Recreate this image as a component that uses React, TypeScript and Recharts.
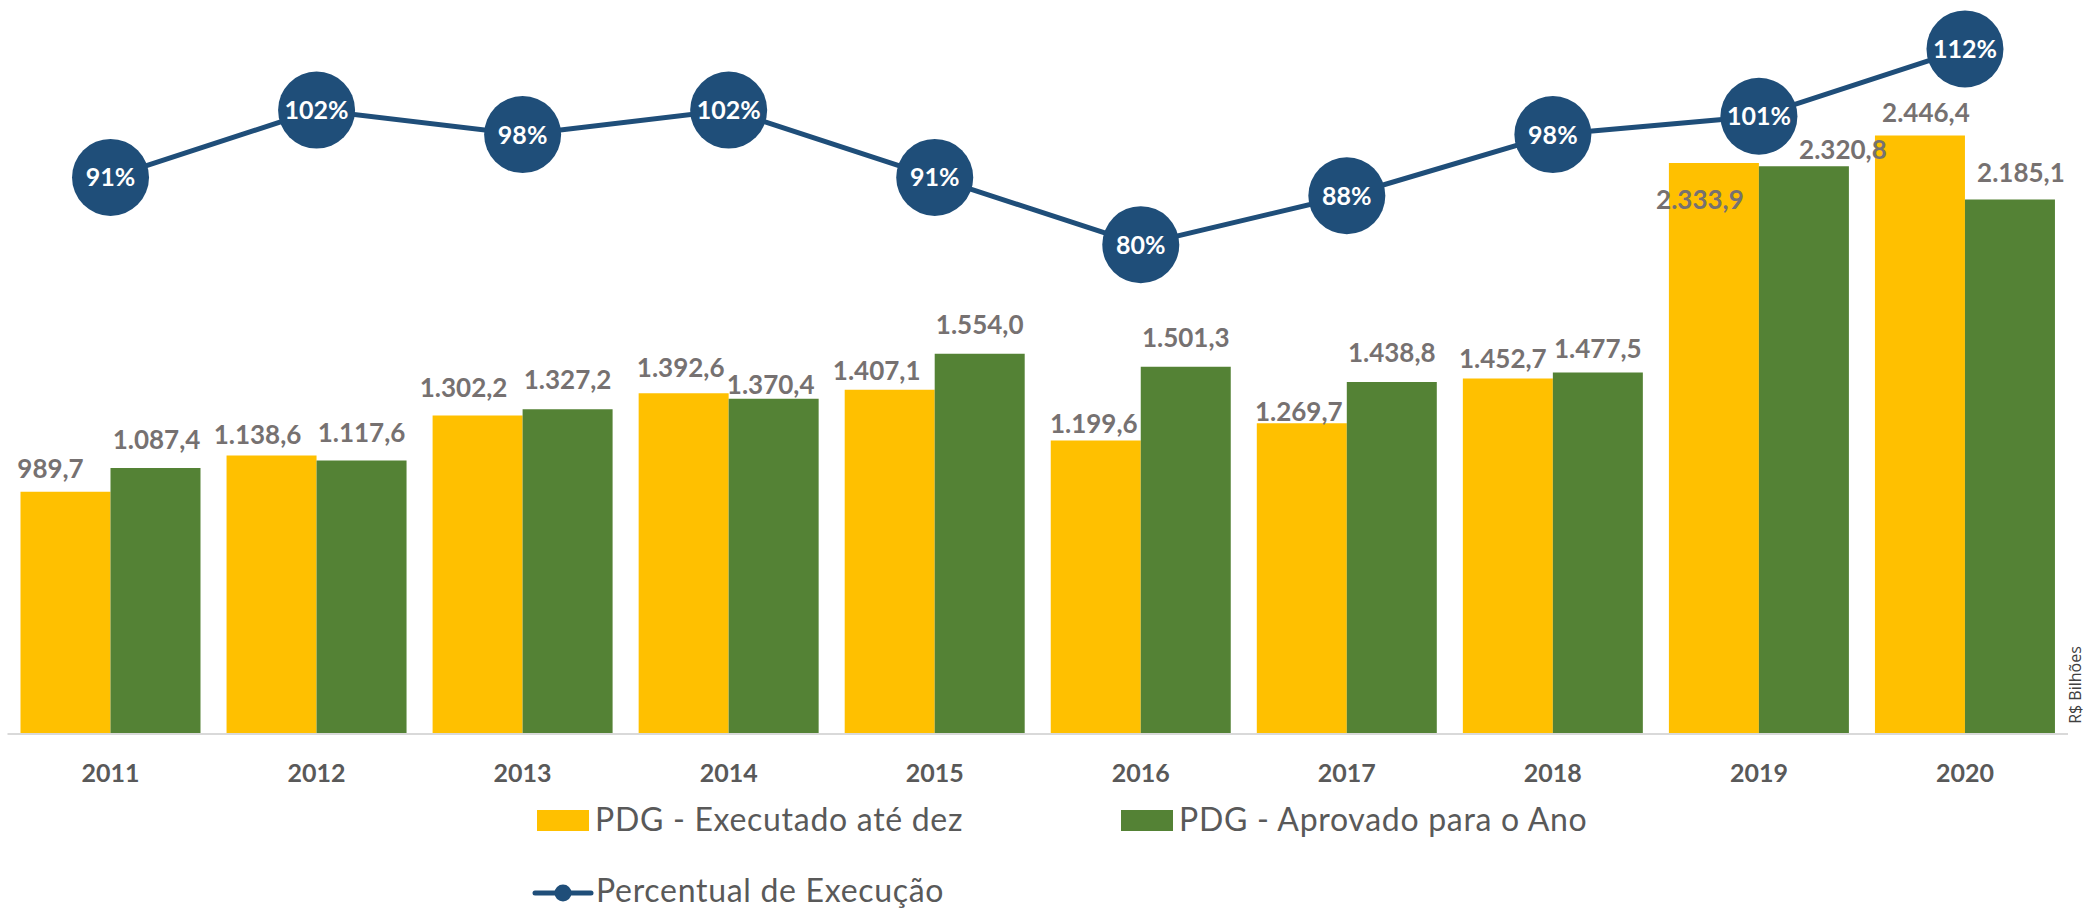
import React from 'react';
import { ComposedChart, Bar, Line, XAxis, YAxis, Legend, LabelList } from 'recharts';

const years = ['2011', '2012', '2013', '2014', '2015', '2016', '2017', '2018', '2019', '2020'];
const executado = [989.7, 1138.6, 1302.2, 1392.6, 1407.1, 1199.6, 1269.7, 1452.7, 2333.9, 2446.4];
const aprovado = [1087.4, 1117.6, 1327.2, 1370.4, 1554.0, 1501.3, 1438.8, 1477.5, 2320.8, 2185.1];
const percentual = [91, 102, 98, 102, 91, 80, 88, 98, 101, 112];

const seriesNames = {
  executado: 'PDG - Executado até dez',
  aprovado: 'PDG - Aprovado para o Ano',
  percentual: 'Percentual de Execução',
};

// label placement tweaks (style only)
const execLabelDx = [-15, -14, -14, -3, -13, -2, -3, -5, -14, 6];
const execLabelGap = [14, 11, 18, 16, 10, 7, 2, 11, -46, 13];
const aprLabelDx = [1, 0, 0, -3, 0, 0, 0, 0, 39, 11];
const aprLabelGap = [19, 19, 20, 5, 20, 20, 20, 15, 7, 17];

const data = years.map((y, i) => ({
  year: y,
  executado: executado[i],
  aprovado: aprovado[i],
  percentual: percentual[i],
}));

const YELLOW = '#FFC000';
const GREEN = '#548235';
const NAVY = '#1F4E79';
const LABEL_GRAY = '#767171';
const TEXT_GRAY = '#595959';

const fmt = (v: number) => {
  const [i, d] = v.toFixed(1).split('.');
  return i.replace(/\B(?=(\d{3})+(?!\d))/g, '.') + ',' + d;
};

const makeBarLabel = (dxArr: number[], gapArr: number[]) => (props: any) => {
  const { x, y, width, index, value } = props;
  return (
    <text
      x={Number(x) + Number(width) / 2 + dxArr[index]}
      y={Number(y) - gapArr[index]}
      textAnchor="middle"
      fill={LABEL_GRAY}
      fontFamily="Lato"
      fontWeight="bold"
      fontSize={26}
    >
      {fmt(Number(value))}
    </text>
  );
};

const renderDot = (props: any) => {
  const { cx, cy, index, payload } = props;
  return (
    <g key={`dot-${index}`}>
      <circle cx={cx} cy={cy} r={38.5} fill={NAVY} />
      <text
        x={cx}
        y={cy + 9}
        textAnchor="middle"
        fill="#FFFFFF"
        fontFamily="Lato"
        fontWeight="bold"
        fontSize={25}
      >
        {payload.percentual}%
      </text>
    </g>
  );
};

const YearTick = (props: any) => {
  const { x, y, payload } = props;
  return (
    <text
      x={x}
      y={Number(y) + 40}
      textAnchor="middle"
      fill={TEXT_GRAY}
      fontFamily="Lato"
      fontWeight="bold"
      fontSize={25}
    >
      {payload.value}
    </text>
  );
};

const renderLegend = (props: any) => {
  const payload = props.payload || [];
  const find = (key: string) => payload.find((p: any) => p.dataKey === key);
  const ex = find('executado');
  const ap = find('aprovado');
  const pc = find('percentual');
  const textStyle = { fontFamily: 'Lato', fontSize: 32, fill: TEXT_GRAY, letterSpacing: 0.7 } as any;
  return (
    <svg width={2085} height={110} style={{ overflow: 'visible', display: 'block' }}>
      {ex && (
        <g>
          <rect x={537} y={10} width={52} height={21} fill={ex.color} />
          <text x={595} y={31} {...textStyle}>{ex.value}</text>
        </g>
      )}
      {ap && (
        <g>
          <rect x={1121} y={10} width={52} height={21} fill={ap.color} />
          <text x={1179} y={31} {...textStyle}>{ap.value}</text>
        </g>
      )}
      {pc && (
        <g>
          <line x1={535} x2={591} y1={93} y2={93} stroke={pc.color} strokeWidth={5} strokeLinecap="round" />
          <circle cx={563} cy={93} r={8.5} fill={pc.color} />
          <text x={596} y={102} {...textStyle}>{pc.value}</text>
        </g>
      )}
    </svg>
  );
};

const UnitLabel = (props: any) => {
  const vb = props.viewBox || { x: 2068, y: 0, width: 17, height: 734 };
  const cx = vb.x + 7;
  const cy = vb.y + vb.height - 49;
  return (
    <text
      x={cx}
      y={cy}
      transform={`rotate(-90 ${cx} ${cy})`}
      textAnchor="middle"
      dominantBaseline="central"
      fill="#404040"
      fontFamily="Open Sans"
      fontSize={16}
    >
      R$ Bilhões
    </text>
  );
};

export default function App() {
  return (
    <div style={{ position: 'absolute', left: 0, top: 0, width: 2085, height: 910, background: '#fff' }}>
      <ComposedChart
        width={2085}
        height={910}
        data={data}
        margin={{ top: 0, right: 0, bottom: 0, left: 7.5 }}
        barGap={0}
      >
        <XAxis
          dataKey="year"
          height={176}
          axisLine={{ stroke: '#D9D9D9', strokeWidth: 2 }}
          tickLine={false}
          tick={<YearTick />}
          interval={0}
        />
        <YAxis yAxisId="left" domain={[0, 3000]} hide />
        <YAxis
          yAxisId="right"
          orientation="right"
          domain={[0, 120]}
          width={17}
          tick={false}
          axisLine={false}
          tickLine={false}
          label={<UnitLabel />}
        />
        <Legend
          content={renderLegend}
          wrapperStyle={{ position: 'absolute', left: 0, top: 800, width: 2085, height: 0, overflow: 'visible' }}
        />
        <Bar
          yAxisId="left"
          dataKey="executado"
          name={seriesNames.executado}
          fill={YELLOW}
          barSize={90}
          isAnimationActive={false}
        >
          <LabelList dataKey="executado" content={makeBarLabel(execLabelDx, execLabelGap)} />
        </Bar>
        <Bar
          yAxisId="left"
          dataKey="aprovado"
          name={seriesNames.aprovado}
          fill={GREEN}
          barSize={90}
          isAnimationActive={false}
        >
          <LabelList dataKey="aprovado" content={makeBarLabel(aprLabelDx, aprLabelGap)} />
        </Bar>
        <Line
          yAxisId="right"
          dataKey="percentual"
          name={seriesNames.percentual}
          stroke={NAVY}
          strokeWidth={5}
          dot={renderDot}
          activeDot={false}
          isAnimationActive={false}
        />
      </ComposedChart>
    </div>
  );
}
